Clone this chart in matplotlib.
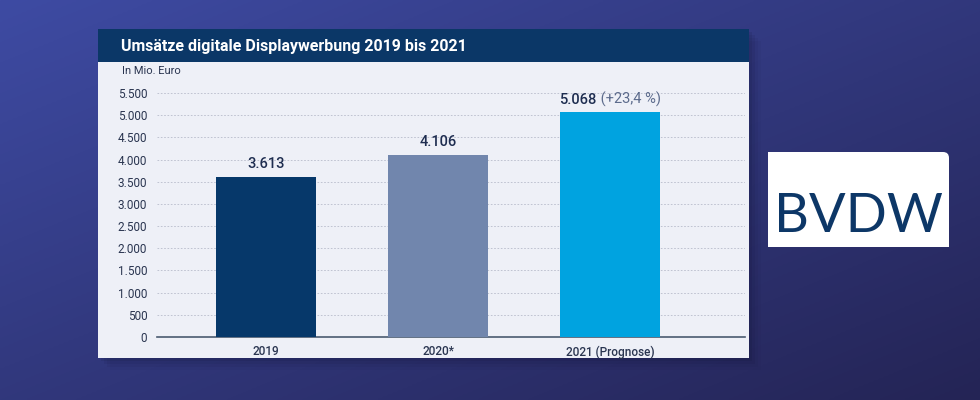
import numpy as np
import matplotlib
matplotlib.use("Agg")
import matplotlib.pyplot as plt
from matplotlib.patches import Rectangle, FancyBboxPatch
from matplotlib.ticker import FuncFormatter

plt.rcParams['font.family'] = ['Roboto', 'DejaVu Sans']

# Data
categories = ["2019", "2020*", "2021 (Prognose)"]
values = [3613, 4106, 5068]
value_labels = ["3.613", "4.106", "5.068"]
extra_labels = ["", "", " (+23,4 %)"]
bar_colors = ["#06386a", "#7186ad", "#00a3e0"]
yticks = [0, 500, 1000, 1500, 2000, 2500, 3000, 3500, 4000, 4500, 5000, 5500]
title = "Umsätze digitale Displaywerbung 2019 bis 2021"
unit_label = "In Mio. Euro"
logo_text = "BVDW"

W, H = 980, 400
fig = plt.figure(figsize=(9.8, 4.0), dpi=100)

# Background gradient
bg = fig.add_axes([0, 0, 1, 1], zorder=0)
yy, xx = np.mgrid[0:1:200j, 0:1:400j]
t = np.clip(0.5 * yy + 0.5 * xx, 0, 1)
c0 = np.array([0x3e, 0x4b, 0xa3]) / 255
c1 = np.array([0x24, 0x24, 0x55]) / 255
img = c0[None, None, :] * (1 - t[..., None]) + c1[None, None, :] * t[..., None]
bg.imshow(img, extent=[0, W, H, 0], origin='upper', aspect='auto')
bg.set_xlim(0, W)
bg.set_ylim(H, 0)
bg.axis('off')

# Card shadow
for i, a in enumerate([0.10, 0.08, 0.06, 0.04]):
    d = 3 + i * 3
    bg.add_patch(Rectangle((98 + d, 29 + d), 651, 329, facecolor='#101030', alpha=a, lw=0, zorder=1))
# Card
bg.add_patch(Rectangle((98, 29), 651, 329, facecolor='#eef0f7', lw=0, zorder=2))
bg.add_patch(Rectangle((98, 29), 651, 33, facecolor='#0b3767', lw=0, zorder=3))
bg.text(121, 46, title, color='white', fontsize=11.5, fontweight='semibold',
        va='center', ha='left', zorder=4)
bg.text(122, 71, unit_label, color='#2a3550', fontsize=8, va='center', ha='left', zorder=4)

# Logo box
bg.add_patch(FancyBboxPatch((768, 152), 181, 95, boxstyle="round,pad=0,rounding_size=6",
                            facecolor='white', lw=0, zorder=2))
bg.add_patch(Rectangle((768, 152), 20, 95, facecolor='white', lw=0, zorder=2))
bg.add_patch(Rectangle((768, 200), 181, 47, facecolor='white', lw=0, zorder=2))
bg.text(858, 216, logo_text, color='#0d3767', fontsize=39, ha='center', va='center',
        family=['Lato', 'DejaVu Sans'], fontweight='normal', zorder=3)

# Chart axes
ax = fig.add_axes([157 / W, 1 - 337 / H, (745 - 157) / W, (337 - 79.7) / H], zorder=2)
ax.set_facecolor('none')
x = np.arange(len(categories))
ax.bar(x, values, width=0.58, color=bar_colors, zorder=3)
ax.set_xlim(-0.634, 2.785)
ax.set_ylim(0, 5800)
ax.set_yticks(yticks)
ax.yaxis.set_major_formatter(FuncFormatter(lambda v, p: f"{int(v):,}".replace(",", ".")))
ax.grid(axis='y', linestyle=(0, (2, 2)), color='#b8bccb', linewidth=0.6, zorder=1)
ax.set_xticks(x)
ax.set_xticklabels(categories, fontweight='medium')
for s in ['top', 'right', 'left']:
    ax.spines[s].set_visible(False)
ax.spines['bottom'].set_color('#4a5a70')
ax.spines['bottom'].set_linewidth(1.2)
ax.tick_params(axis='y', length=0, pad=7, labelsize=8.5, labelcolor='#2a3550')
ax.tick_params(axis='x', length=0, pad=6, labelsize=8.5, labelcolor='#2a3550')

renderer = fig.canvas.get_renderer()
inv = ax.transData.inverted()
for xi, v, lab, ext in zip(x, values, value_labels, extra_labels):
    if ext:
        t2 = ax.annotate(lab, (xi, v), xytext=(0, 4), textcoords='offset points',
                         ha='left', va='bottom', fontsize=10.5, color='#1e2d50',
                         fontweight='medium')
        t3 = ax.annotate(ext, (xi, v), xytext=(0, 4), textcoords='offset points',
                         ha='left', va='bottom', fontsize=10.5, color='#5c6b8c')
        w2 = t2.get_window_extent(renderer).width
        w3 = t3.get_window_extent(renderer).width
        x0_pix = ax.transData.transform((xi, v))[0] - (w2 + w3) / 2
        xl = inv.transform((x0_pix, 0))[0]
        xm = inv.transform((x0_pix + w2, 0))[0]
        t2.xy = (xl, v)
        t3.xy = (xm, v)
    else:
        ax.annotate(lab, (xi, v), xytext=(0, 4), textcoords='offset points',
                    ha='center', va='bottom', fontsize=10.5, color='#1e2d50',
                    fontweight='medium')

fig.savefig("out.png", dpi=100)
